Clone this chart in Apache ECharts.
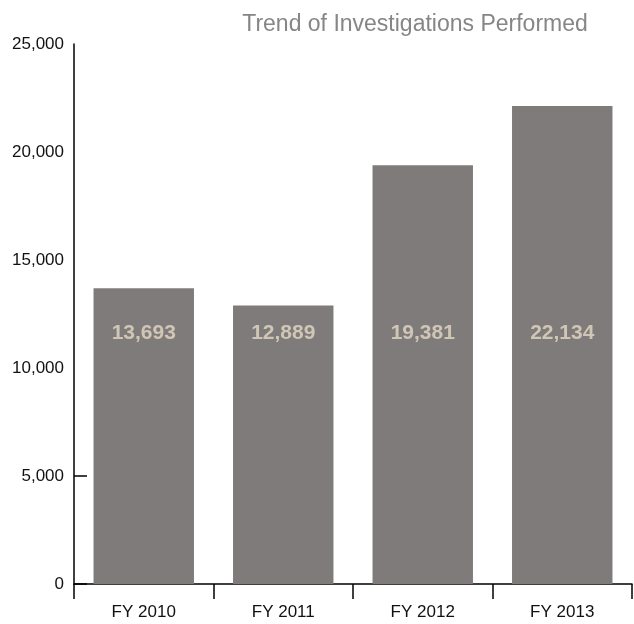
<!DOCTYPE html>
<html><head><meta charset="utf-8">
<script src="https://cdn.jsdelivr.net/npm/echarts@6/dist/echarts.min.js"></script>
<style>html,body{margin:0;padding:0;background:#fff}#c{width:634px;height:624px}</style>
</head><body><div id="c"></div>
<script>
const categories = ['FY 2010', 'FY 2011', 'FY 2012', 'FY 2013'];
const investigations = [13693, 12889, 19381, 22134];
const yMin = 0, yMax = 25000, yStep = 5000;
const FONT = '"Liberation Sans", Arial, sans-serif';
const chart = echarts.init(document.getElementById('c'));
chart.setOption({
  animation: false,
  title: {
    text: 'Trend of Investigations Performed', left: 410, top: 8, textAlign: 'center',
    textStyle: { color: '#888586', fontSize: 23, fontWeight: 'normal', fontFamily: FONT }
  },
  grid: [
    { left: 74, right: 2, top: 44, bottom: 40 },
    { left: 74, right: 2, top: 476, bottom: 40 }
  ],
  xAxis: [{
    type: 'category', data: categories, gridIndex: 0,
    axisLine: { lineStyle: { color: '#000', width: 1.5 } },
    axisTick: { show: true, length: 15, lineStyle: { color: '#000', width: 1.5 } },
    axisLabel: { color: '#111', fontSize: 17, fontFamily: FONT, margin: 20 }
  }, {
    type: 'category', data: categories, gridIndex: 1, show: false
  }],
  yAxis: [{
    type: 'value', min: yMin, max: yMax, interval: yStep, gridIndex: 0,
    axisLine: { show: true, lineStyle: { color: '#000', width: 1.5 } },
    axisTick: { show: false },
    splitLine: { show: false },
    axisLabel: { color: '#111', fontSize: 17, fontFamily: FONT, margin: 10,
      formatter: v => v.toLocaleString('en-US') }
  }, {
    type: 'value', min: 0, max: yStep, interval: yStep, gridIndex: 1,
    axisLine: { show: false },
    axisTick: { show: true, inside: true, length: 13, lineStyle: { color: '#000', width: 1.5 } },
    axisLabel: { show: false }, splitLine: { show: false }
  }],
  series: [{
    type: 'bar', data: investigations, xAxisIndex: 0, yAxisIndex: 0,
    barWidth: '72%',
    itemStyle: { color: '#807b7b' },
    label: {
      show: true, position: 'insideBottom', distance: 240,
      color: '#cfc6b6', fontSize: 21, fontWeight: 'bold', fontFamily: FONT,
      formatter: p => p.value.toLocaleString('en-US')
    }
  }]
});
</script></body></html>
